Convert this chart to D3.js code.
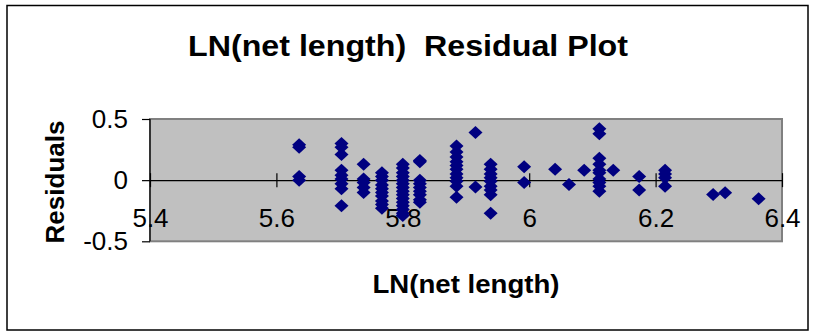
<!DOCTYPE html>
<html>
<head>
<meta charset="utf-8">
<script src="https://cdn.jsdelivr.net/npm/d3@7"></script>
<style>
  html, body { margin: 0; padding: 0; background: #fff; }
  svg { display: block; font-family: "Liberation Sans", Arial, sans-serif; }
</style>
</head>
<body>
<svg id="chart" width="814" height="332"></svg>
<script>
// LN(net length) of each observation and its residual from the fitted model
const lnNetLength = [
  5.636, 5.636, 5.636, 5.636,
  5.703, 5.703, 5.703, 5.703, 5.703, 5.703, 5.703, 5.703, 5.703,
  5.738, 5.738, 5.738, 5.738, 5.738,
  5.767, 5.767, 5.767, 5.767, 5.767, 5.767, 5.767, 5.767, 5.767, 5.767,
  5.800, 5.800, 5.800, 5.800, 5.800, 5.800, 5.800, 5.800, 5.800, 5.800, 5.800, 5.800, 5.800, 5.800, 5.800,
  5.827, 5.827, 5.827, 5.827, 5.827, 5.827, 5.827, 5.827, 5.827,
  5.885, 5.885, 5.885, 5.885, 5.885, 5.885, 5.885, 5.885, 5.885, 5.885, 5.885,
  5.915, 5.915,
  5.939, 5.939, 5.939, 5.939, 5.939, 5.939, 5.939, 5.939, 5.939,
  5.992, 5.992,
  6.041, 6.063, 6.087,
  6.111, 6.111, 6.111, 6.111, 6.111, 6.111, 6.111, 6.111, 6.111, 6.111,
  6.133,
  6.174, 6.174,
  6.215, 6.215, 6.215, 6.215,
  6.291, 6.310, 6.363
];
const residuals = [
  0.29, 0.27, 0.03, 0.00,
  0.30, 0.27, 0.21, 0.08, 0.04, 0.01, -0.03, -0.07, -0.21,
  0.13, 0.01, -0.02, -0.06, -0.10,
  0.06, 0.03, 0.00, -0.04, -0.07, -0.10, -0.13, -0.17, -0.20, -0.23,
  0.13, 0.10, 0.06, 0.03, 0.00, -0.03, -0.06, -0.09, -0.12, -0.15, -0.18, -0.21, -0.24, -0.27, -0.29,
  0.16, 0.15, 0.00, -0.03, -0.06, -0.09, -0.12, -0.16, -0.18,
  0.28, 0.23, 0.19, 0.15, 0.12, 0.09, 0.05, 0.02, -0.01, -0.05, -0.14,
  0.39, -0.055,
  0.13, 0.09, 0.05, 0.02, -0.01, -0.05, -0.08, -0.12, -0.27,
  0.11, -0.02,
  0.09, -0.035, 0.08,
  0.42, 0.38, 0.18, 0.13, 0.08, 0.06, 0.01, -0.02, -0.05, -0.09,
  0.08,
  0.03, -0.08,
  0.08, 0.05, 0.02, -0.05,
  -0.117, -0.103, -0.152
];
const xTicks = [5.4, 5.6, 5.8, 6.0, 6.2, 6.4];
const yTicks = [0.5, 0, -0.5];
const titleText = "LN(net length)  Residual Plot";
const xTitle = "LN(net length)";
const yTitle = "Residuals";

const svg = d3.select("#chart");
const plot = { left: 150, right: 782, top: 119, bottom: 241.3 };

const x = d3.scaleLinear().domain([5.4, 6.4]).range([plot.left, plot.right]);
const y = d3.scaleLinear().domain([-0.5, 0.5]).range([plot.bottom, plot.top]);

// plain number labels with an ASCII hyphen for negatives
const plainNumber = d => String(d);

// outer chart frame
svg.append("rect")
  .attr("x", 7).attr("y", 5.5).attr("width", 801).attr("height", 324.5)
  .attr("fill", "#fff").attr("stroke", "#000").attr("stroke-width", 1.5);

// plot area
svg.append("rect")
  .attr("x", plot.left).attr("y", plot.top)
  .attr("width", plot.right - plot.left).attr("height", plot.bottom - plot.top)
  .attr("fill", "#c0c0c0").attr("stroke", "#808080").attr("stroke-width", 2);

// title
svg.append("text")
  .attr("x", 408).attr("y", 56)
  .attr("text-anchor", "middle")
  .style("white-space", "pre")
  .attr("font-size", 30).attr("font-weight", "bold")
  .attr("textLength", 440).attr("lengthAdjust", "spacingAndGlyphs")
  .text(titleText);

// y axis
const yAxis = svg.append("g")
  .attr("transform", `translate(${plot.left},0)`)
  .call(d3.axisLeft(y).tickValues(yTicks).tickSize(8).tickPadding(14)
    .tickFormat(plainNumber));
yAxis.select(".domain").attr("stroke", "#000").attr("stroke-width", 1.2)
  .attr("d", `M0,${plot.top}V${plot.bottom}`);
yAxis.selectAll(".tick line").attr("stroke", "#000").attr("stroke-width", 1.2);
yAxis.selectAll(".tick text")
  .attr("font-size", 26).attr("font-family", "Liberation Sans, Arial, sans-serif")
  .attr("fill", "#000");

// x axis drawn through residual = 0, ticks crossing the line
const xAxis = svg.append("g")
  .attr("transform", `translate(0,${y(0)})`)
  .call(d3.axisBottom(x).tickValues(xTicks).tickSizeInner(7).tickSizeOuter(0).tickPadding(21)
    .tickFormat(plainNumber));
xAxis.select(".domain").attr("stroke", "#000").attr("stroke-width", 1.2);
xAxis.selectAll(".tick line").attr("stroke", "#000").attr("stroke-width", 1.2)
  .attr("y1", -7).attr("y2", 7);
xAxis.selectAll(".tick text")
  .attr("font-size", 26).attr("font-family", "Liberation Sans, Arial, sans-serif")
  .attr("fill", "#000");

// residual markers (diamonds)
const diamond = (w, h) => `M0,${-h / 2}L${w / 2},0L0,${h / 2}L${-w / 2},0Z`;
svg.append("g").selectAll("path")
  .data(lnNetLength.map((v, i) => [v, residuals[i]]))
  .join("path")
  .attr("transform", d => `translate(${x(d[0])},${y(d[1])})`)
  .attr("d", diamond(14, 13))
  .attr("fill", "#000080");

// axis titles
svg.append("text")
  .attr("x", 466).attr("y", 293)
  .attr("text-anchor", "middle")
  .attr("font-size", 25).attr("font-weight", "bold")
  .attr("textLength", 187).attr("lengthAdjust", "spacingAndGlyphs")
  .text(xTitle);

svg.append("text")
  .attr("transform", "translate(64,182) rotate(-90)")
  .attr("text-anchor", "middle")
  .attr("font-size", 26).attr("font-weight", "bold")
  .text(yTitle);
</script>
</body>
</html>
